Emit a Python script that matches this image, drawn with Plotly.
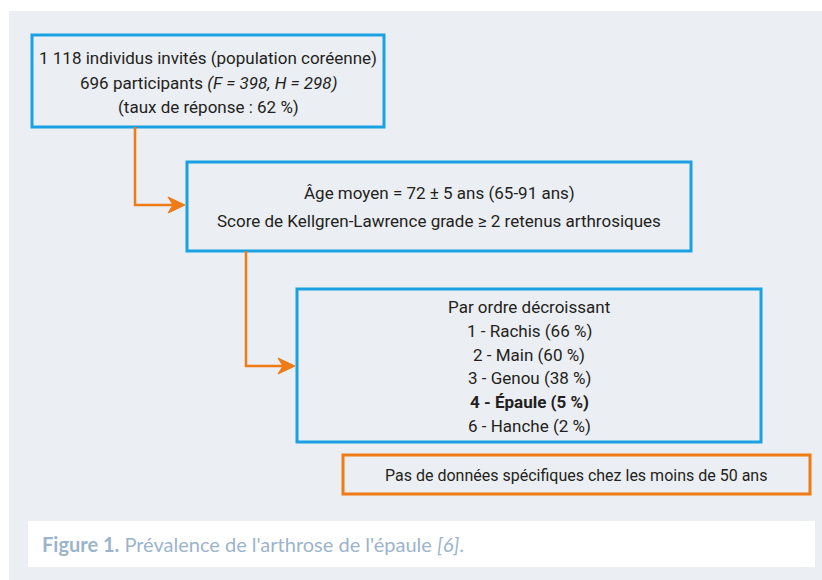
import plotly.graph_objects as go

# ---- content (data) ----
box1_lines = ["1 118 individus invités (population coréenne)",
              "696 participants <i>(F = 398, H = 298)</i>",
              "(taux de réponse : 62 %)"]
box2_lines = ["Âge moyen = 72 ± 5 ans (65-91 ans)",
              "Score de Kellgren-Lawrence grade ≥ 2 retenus arthrosiques"]
box3_title = "Par ordre décroissant"
ranks = [1, 2, 3, 4, 6]
sites = ["Rachis", "Main", "Genou", "Épaule", "Hanche"]
prevalence = [66, 60, 38, 5, 2]
highlight_site = "Épaule"
box4_text = "Pas de données spécifiques chez les moins de 50 ans"
caption_bold = "Figure 1."
caption_text = " Prévalence de l'arthrose de l'épaule "
caption_ref = "[6]"

# ---- style ----
W, H = 822, 580
BLUE = "#1AA1E3"
ORANGE = "#F07A14"
PANEL = "#EBEEF3"
TEXT = "#231F20"
CAP = "#9BB4CC"
FONT = "Roboto, Liberation Sans, sans-serif"
FS = 17

fig = go.Figure()
shapes = []
ann = []

# panel
shapes.append(dict(type="rect", x0=9, x1=822, y0=11, y1=580, line_width=0, fillcolor=PANEL, layer="below"))
# caption box
shapes.append(dict(type="rect", x0=28, x1=815, y0=521, y1=567, line_width=0, fillcolor="white", layer="below"))

def box(x0, y0, x1, y1, color):
    shapes.append(dict(type="rect", x0=x0, x1=x1, y0=y0, y1=y1,
                       line=dict(color=color, width=3), fillcolor="rgba(0,0,0,0)"))

def lines_at(cx, ys, texts, size=FS):
    for y, t in zip(ys, texts):
        ann.append(dict(x=cx, y=y, text=t, showarrow=False, xanchor="center", yanchor="middle",
                        font=dict(family=FONT, size=size, color=TEXT)))

def connector(x, y0, y1, x1):
    shapes.append(dict(type="path", path=f"M {x},{y0} L {x},{y1} L {x1-12},{y1}",
                       line=dict(color=ORANGE, width=2.5)))
    shapes.append(dict(type="path",
                       path=f"M {x1},{y1} L {x1-17},{y1-8} L {x1-12},{y1} L {x1-17},{y1+8} Z",
                       line=dict(color=ORANGE, width=1), fillcolor=ORANGE))

# box 1
box(32, 35, 384, 127, BLUE)
lines_at(208, [58, 83, 107], box1_lines)
# connector 1
connector(135, 127, 205, 185)
# box 2
box(187, 162, 691, 251, BLUE)
lines_at(439, [193, 221], box2_lines)
# connector 2
connector(246, 251, 366, 295)
# box 3
box(297, 289, 761, 442, BLUE)
items = []
for r, s, p in zip(ranks, sites, prevalence):
    t = f"{r} - {s} ({p} %)"
    items.append(f"<b>{t}</b>" if s == highlight_site else t)
lines_at(529, [307, 331, 355, 378, 402, 426], [box3_title] + items)
# box 4
box(343, 455, 810, 494, ORANGE)
lines_at(576, [475], [box4_text], size=16)

# caption
ann.append(dict(x=40, y=544, xanchor="left", yanchor="middle", showarrow=False,
                text=f"<b>{caption_bold}</b>{caption_text}<i>{caption_ref}</i>.",
                font=dict(family="Lato, Open Sans, sans-serif", size=20, color=CAP)))

fig.update_layout(width=W, height=H, margin=dict(l=0, r=0, t=0, b=0),
                  paper_bgcolor="white", plot_bgcolor="white",
                  xaxis=dict(range=[0, W], visible=False, fixedrange=True),
                  yaxis=dict(range=[H, 0], visible=False, fixedrange=True),
                  shapes=shapes, annotations=ann, showlegend=False)
fig.write_html("out.html", config={"displayModeBar": False},
               post_script="document.body.style.margin='0';")
